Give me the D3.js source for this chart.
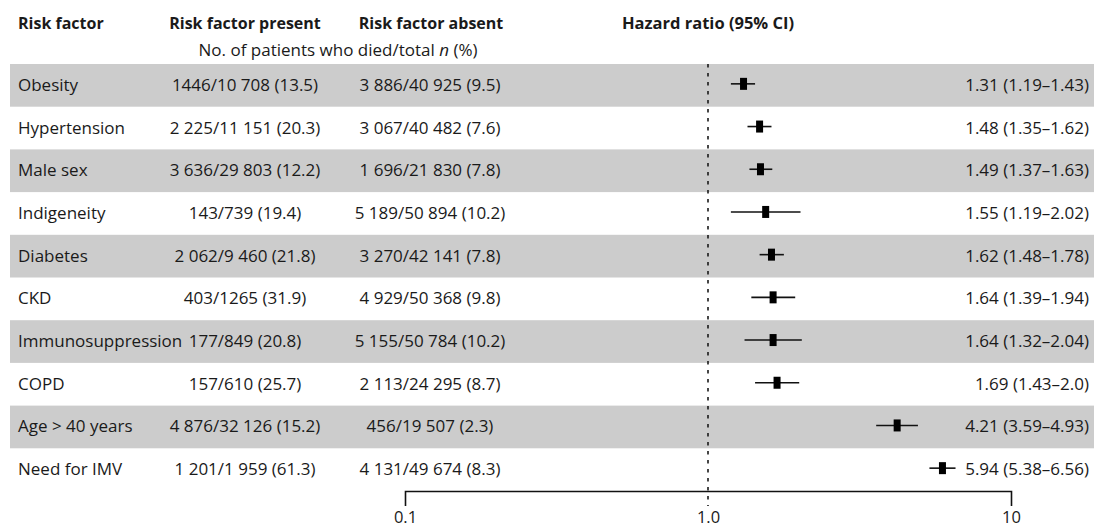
<!DOCTYPE html>
<html>
<head>
<meta charset="utf-8">
<script src="https://cdn.jsdelivr.net/npm/d3@7"></script>
<style>
  body { margin: 0; background: #fff; }
  text { font-family: "Open Sans", "Noto Sans", sans-serif; fill: #1a1a1a; }
</style>
</head>
<body>
<script>
var width = 1094,
    height = 528;

// table rows
var factors = ["Obesity", "Hypertension", "Male sex", "Indigeneity", "Diabetes", "CKD",
    "Immunosuppression", "COPD", "Age > 40 years", "Need for IMV"];

var present = ["1446/10 708 (13.5)", "2 225/11 151 (20.3)", "3 636/29 803 (12.2)", "143/739 (19.4)",
    "2 062/9 460 (21.8)", "403/1265 (31.9)", "177/849 (20.8)", "157/610 (25.7)",
    "4 876/32 126 (15.2)", "1 201/1 959 (61.3)"];

var absent = ["3 886/40 925 (9.5)", "3 067/40 482 (7.6)", "1 696/21 830 (7.8)", "5 189/50 894 (10.2)",
    "3 270/42 141 (7.8)", "4 929/50 368 (9.8)", "5 155/50 784 (10.2)", "2 113/24 295 (8.7)",
    "456/19 507 (2.3)", "4 131/49 674 (8.3)"];

// hazard ratios and 95% CI
var hr = [1.31, 1.48, 1.49, 1.55, 1.62, 1.64, 1.64, 1.69, 4.21, 5.94];
var lo = [1.19, 1.35, 1.37, 1.19, 1.48, 1.39, 1.32, 1.43, 3.59, 5.38];
var hi = [1.43, 1.62, 1.63, 2.02, 1.78, 1.94, 2.04, 2.0, 4.93, 6.56];
var hrText = ["1.31 (1.19\u20131.43)", "1.48 (1.35\u20131.62)", "1.49 (1.37\u20131.63)", "1.55 (1.19\u20132.02)",
    "1.62 (1.48\u20131.78)", "1.64 (1.39\u20131.94)", "1.64 (1.32\u20132.04)", "1.69 (1.43\u20132.0)",
    "4.21 (3.59\u20134.93)", "5.94 (5.38\u20136.56)"];

var ticks = [0.1, 1, 10];
var tickLabels = ["0.1", "1.0", "10"];

var rows = factors.map(function(f, i) {
    return { name: f, present: present[i], absent: absent[i], hr: hr[i], lo: lo[i], hi: hi[i], text: hrText[i] };
});

var svg = d3.select("body").append("svg")
    .attr("width", width)
    .attr("height", height);

var y = d3.scaleBand()
    .domain(factors)
    .range([64, 491]);

var x = d3.scaleLog()
    .domain([0.1, 10])
    .range([405, 1011]);

// striped rows
svg.selectAll("rect.band")
    .data(rows.filter(function(d, i) { return i % 2 == 0; }))
    .enter().append("rect")
    .attr("class", "band")
    .attr("x", 10)
    .attr("y", function(d) { return y(d.name); })
    .attr("width", width - 10)
    .attr("height", y.bandwidth())
    .attr("fill", "#cccccc");

// headers
var head = svg.append("g")
    .style("font-size", "16px")
    .style("font-weight", "bold");

head.append("text").attr("x", 18).attr("y", 29).text("Risk factor");
head.append("text").attr("x", 245).attr("y", 29).attr("text-anchor", "middle").text("Risk factor present");
head.append("text").attr("x", 431).attr("y", 29).attr("text-anchor", "middle").text("Risk factor absent");
head.append("text").attr("x", x(1)).attr("y", 29).attr("text-anchor", "middle")
    .style("font-size", "16.5px").text("Hazard ratio (95% CI)");

var sub = svg.append("text")
    .attr("x", 338)
    .attr("y", 56)
    .attr("text-anchor", "middle")
    .style("font-size", "17px");
sub.append("tspan").text("No. of patients who died/total ");
sub.append("tspan").style("font-style", "italic").text("n");
sub.append("tspan").text(" (%)");

// table cells
var row = svg.selectAll("g.row")
    .data(rows)
    .enter().append("g")
    .attr("class", "row")
    .attr("transform", function(d) { return "translate(0," + (y(d.name) + y.bandwidth() / 2 + 5.5) + ")"; })
    .style("font-size", "17px");

row.append("text").attr("x", 18).text(function(d) { return d.name; });
row.append("text").attr("x", 245).attr("text-anchor", "middle").text(function(d) { return d.present; });
row.append("text").attr("x", 430).attr("text-anchor", "middle").text(function(d) { return d.absent; });
row.append("text").attr("x", 1089).attr("text-anchor", "end").text(function(d) { return d.text; });

// reference line at HR = 1
svg.append("line")
    .attr("x1", x(1)).attr("x2", x(1))
    .attr("y1", 64).attr("y2", 506)
    .attr("stroke", "#1a1a1a")
    .attr("stroke-width", 1.6)
    .attr("stroke-dasharray", "3.5,5.5");

// whiskers and markers
var cy = function(d) { return y(d.name) + y.bandwidth() / 2 - 1.5; };

svg.selectAll("line.ci")
    .data(rows)
    .enter().append("line")
    .attr("class", "ci")
    .attr("x1", function(d) { return x(d.lo); })
    .attr("x2", function(d) { return x(d.hi); })
    .attr("y1", cy)
    .attr("y2", cy)
    .attr("stroke", "#111")
    .attr("stroke-width", 1.6);

svg.selectAll("rect.hr")
    .data(rows)
    .enter().append("rect")
    .attr("class", "hr")
    .attr("x", function(d) { return x(d.hr) - 3.5; })
    .attr("y", function(d) { return cy(d) - 6; })
    .attr("width", 7)
    .attr("height", 12)
    .attr("fill", "#000");

// axis
var axis = svg.append("g")
    .attr("transform", "translate(0,491)")
    .call(d3.axisBottom(x)
        .tickValues(ticks)
        .tickFormat(function(d, i) { return tickLabels[i]; })
        .tickSize(0)
        .tickSizeOuter(15)
        .tickPadding(20));

axis.select(".domain")
    .attr("stroke", "#111")
    .attr("stroke-width", 1.6);

axis.selectAll("text")
    .style("font-family", "'Open Sans', 'Noto Sans', sans-serif")
    .style("font-size", "16.5px")
    .attr("fill", "#1a1a1a");
</script>
</body>
</html>
